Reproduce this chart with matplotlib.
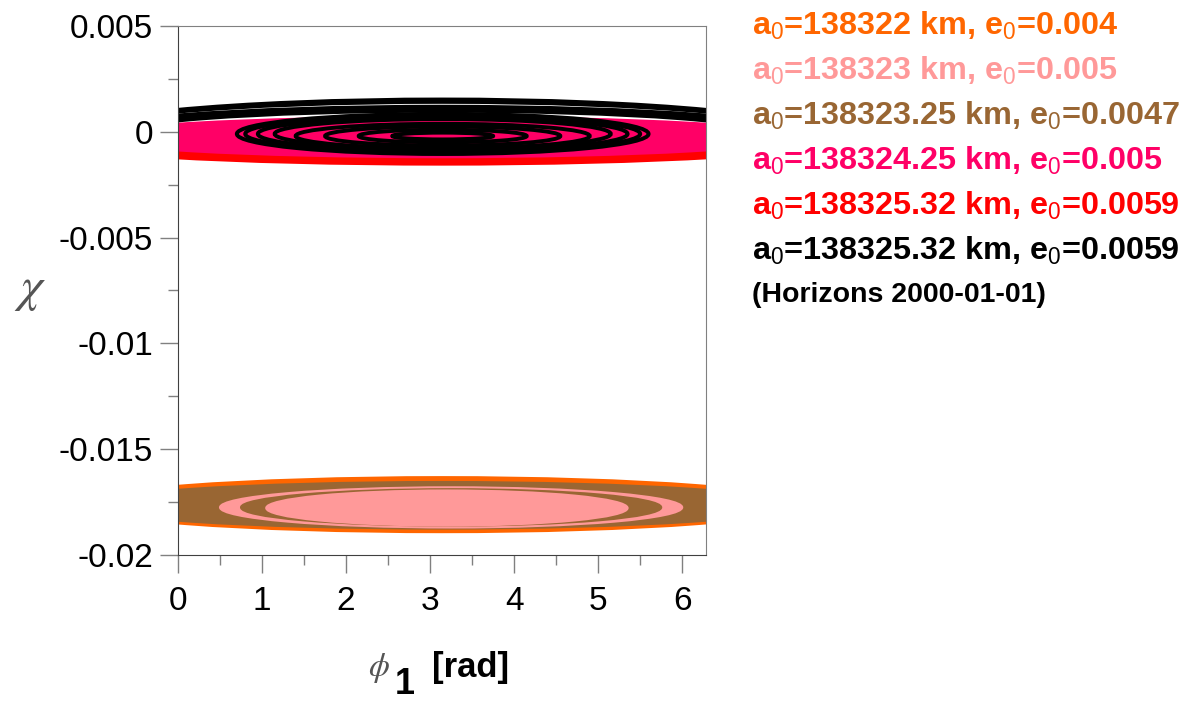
import numpy as np
import matplotlib
matplotlib.use('Agg')
import matplotlib.pyplot as plt
from matplotlib.patches import Ellipse, Arc

plt.rcParams['font.family'] = ['Liberation Sans', 'DejaVu Sans']
plt.rcParams['mathtext.fontset'] = 'custom'
plt.rcParams['mathtext.rm'] = 'Liberation Sans'
plt.rcParams['mathtext.it'] = 'Liberation Sans:italic'
plt.rcParams['mathtext.bf'] = 'Liberation Sans:bold'

# series (legend order)
labels = [r'a$_0$=138322 km, e$_0$=0.004',
          r'a$_0$=138323 km, e$_0$=0.005',
          r'a$_0$=138323.25 km, e$_0$=0.0047',
          r'a$_0$=138324.25 km, e$_0$=0.005',
          r'a$_0$=138325.32 km, e$_0$=0.0059',
          r'a$_0$=138325.32 km, e$_0$=0.0059']
note = '(Horizons 2000-01-01)'
colors = ['#FF6600', '#FF9999', '#996633', '#FF0066', '#FF0000', '#000000']

# filled libration zones: series index, centre phi, centre chi,
# half width in phi [rad], half height in chi
zone_series = [4, 3, 0, 2, 1, 2, 1]
zone_phi = [3.14, 3.14, 3.14, 3.14, 3.25, 3.25, 3.20]
zone_chi = [-0.00045, -0.00025, -0.01762, -0.01765, -0.01775, -0.01775, -0.01778]
zone_dphi = [4.6, 4.2, 4.3, 4.2, 2.75, 2.5, 2.15]
zone_dchi = [0.0011, 0.00095, 0.0013, 0.0011, 0.00095, 0.00086, 0.00083]

# black (Horizons) trajectories: outer arcs (upper half only) and closed loops
arc_phi = [3.14, 3.14, 3.14, 3.14, 3.14]
arc_chi = [-0.0002, -0.0002, -0.0002, -0.0002, -0.0002]
arc_dphi = [4.5, 4.5, 4.4, 4.4, 4.0]
arc_dchi = [0.00172, 0.00162, 0.00138, 0.00128, 0.0012]

loop_phi = [3.15, 3.15, 3.15, 3.15, 3.15, 3.15, 3.15, 3.15]
loop_chi = [-0.0001, -0.0001, -0.0001, -0.0001, -0.0002, -0.0002, -0.0002, -0.0002]
loop_dphi = [2.45, 2.35, 2.2, 2.0, 1.75, 1.4, 1.0, 0.6]
loop_dchi = [0.00095, 0.00088, 0.0008, 0.0007, 0.00058, 0.00045, 0.0003, 0.00016]

yticks = [0.005, 0, -0.005, -0.01, -0.015, -0.02]
yticklabels = ['0.005', '0', '-0.005', '-0.01', '-0.015', '-0.02']
xticks = [0, 1, 2, 3, 4, 5, 6]

fig = plt.figure(figsize=(11.92, 7.05), dpi=100)
ax = fig.add_axes([178/1192, 1-555/705, 528/1192, 529/705])

for s, p, c, w, h in zip(zone_series, zone_phi, zone_chi, zone_dphi, zone_dchi):
    ax.add_patch(Ellipse((p, c), 2*w, 2*h, facecolor=colors[s], edgecolor=colors[s], lw=1.5))

for p, c, w, h in zip(arc_phi, arc_chi, arc_dphi, arc_dchi):
    ax.add_patch(Arc((p, c), 2*w, 2*h, theta1=0, theta2=180, color=colors[5], lw=3))

for p, c, w, h in zip(loop_phi, loop_chi, loop_dphi, loop_dchi):
    ax.add_patch(Ellipse((p, c), 2*w, 2*h, facecolor='none', edgecolor=colors[5], lw=2.8))

ax.set_xlim(0, 2*np.pi)
ax.set_ylim(-0.02, 0.005)
ax.set_xticks(xticks)
ax.set_xticks(np.arange(0.5, 6.3, 1.0), minor=True)
ax.set_yticks(yticks)
ax.set_yticklabels(yticklabels)
ax.set_yticks(np.arange(-0.0175, 0.005, 0.005), minor=True)
ax.tick_params(which='major', length=13, width=1, color='#808080', labelsize=24)
ax.tick_params(axis='x', which='major', pad=9)
ax.tick_params(axis='y', which='major', pad=5)
ax.tick_params(which='minor', length=7, width=1, color='#808080')
for side in ['top', 'right']:
    ax.spines[side].set_color('#808080')
for side in ['left', 'bottom']:
    ax.spines[side].set_color('#404040')

# axis labels
fig.text(30/1192, 1-290/705, r'$\chi$', fontsize=36, color='#555555', ha='center', va='center',
         math_fontfamily='stix')
fig.text(379/1192, 1-668/705, r'$\phi$', fontsize=24, color='#555555', ha='center', va='center',
         math_fontfamily='stix')
fig.text(405/1192, 1-685/705, '1', fontsize=26, fontweight='bold', ha='center', va='center')
fig.text(432/1192, 1-668/705, '[rad]', fontsize=25, fontweight='bold', ha='left', va='center')

# legend
for i, (lab, col) in enumerate(zip(labels, colors)):
    fig.text(752/1192, 1-(35+45*i)/705, lab, fontsize=23.3, fontweight='bold', color=col,
             ha='left', va='baseline')
fig.text(752/1192, 1-302/705, note, fontsize=20.5, fontweight='bold', color='black',
         ha='left', va='baseline')

fig.savefig('out.png', dpi=100)
